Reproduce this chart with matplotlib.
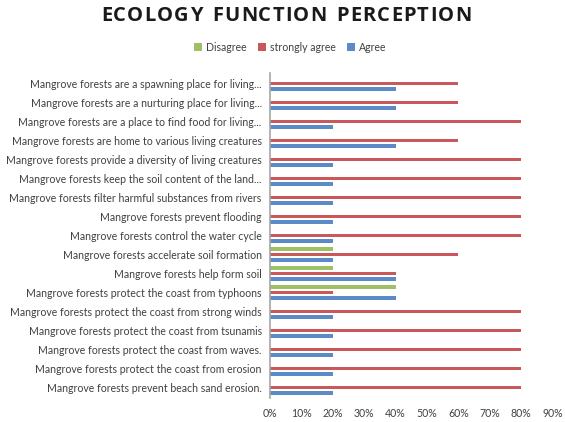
import matplotlib
matplotlib.use("Agg")
import matplotlib.pyplot as plt
import numpy as np

plt.rcParams['font.family'] = ['Lato', 'DejaVu Sans']

# categories, bottom to top
categories = [
    "Mangrove forests prevent beach sand erosion.",
    "Mangrove forests protect the coast from erosion",
    "Mangrove forests protect the coast from waves.",
    "Mangrove forests protect the coast from tsunamis",
    "Mangrove forests protect the coast from strong winds",
    "Mangrove forests protect the coast from typhoons",
    "Mangrove forests help form soil",
    "Mangrove forests accelerate soil formation",
    "Mangrove forests control the water cycle",
    "Mangrove forests prevent flooding",
    "Mangrove forests filter harmful substances from rivers",
    "Mangrove forests keep the soil content of the land...",
    "Mangrove forests provide a diversity of living creatures",
    "Mangrove forests are home to various living creatures",
    "Mangrove forests are a place to find food for living...",
    "Mangrove forests are a nurturing place for living...",
    "Mangrove forests are a spawning place for living...",
]
agree = [0.2, 0.2, 0.2, 0.2, 0.2, 0.4, 0.4, 0.2, 0.2, 0.2, 0.2, 0.2, 0.2, 0.4, 0.2, 0.4, 0.4]
strongly_agree = [0.8, 0.8, 0.8, 0.8, 0.8, 0.2, 0.4, 0.6, 0.8, 0.8, 0.8, 0.8, 0.8, 0.6, 0.8, 0.6, 0.6]
disagree = [0, 0, 0, 0, 0, 0.4, 0.2, 0.2, 0, 0, 0, 0, 0, 0, 0, 0, 0]

x_ticks = [0, 0.1, 0.2, 0.3, 0.4, 0.5, 0.6, 0.7, 0.8, 0.9]
title = "ECOLOGY FUNCTION PERCEPTION"

fig = plt.figure(figsize=(5.65, 4.22), dpi=100)
ax = fig.add_axes([0.478, 0.057, 0.50, 0.77])

y = np.arange(len(categories))
step = 0.3
h = 0.19
ax.barh(y - step, agree, height=h, color='#5B8BC6', label='Agree')
ax.barh(y, strongly_agree, height=h, color='#C9585A', label='strongly agree')
ax.barh(y + step, disagree, height=h, color='#9FC066', label='Disagree')

ax.set_yticks(y)
ax.set_yticklabels(categories, fontsize=7.6, color='#404040')
ax.set_ylim(-0.55, len(categories) - 0.45)
ax.set_xlim(0, 0.9)
ax.set_xticks(x_ticks)
ax.set_xticklabels([f"{int(round(t * 100))}%" for t in x_ticks], fontsize=7.6, color='#404040')
ax.tick_params(axis='y', length=0, pad=6)
ax.tick_params(axis='x', length=0, pad=7)
for s in ['top', 'right', 'bottom']:
    ax.spines[s].set_visible(False)
ax.spines['left'].set_color('#A6A6A6')
ax.spines['left'].set_linewidth(1.2)

handles, labels = ax.get_legend_handles_labels()
fig.legend(handles[::-1], labels[::-1], loc='center', bbox_to_anchor=(0.514, 0.888),
           ncol=3, frameon=False, fontsize=7.6, handlelength=0.7, handleheight=0.7,
           columnspacing=1.1, handletextpad=0.4, labelcolor='#404040')

# title with letter spacing: place characters one by one
renderer = fig.canvas.get_renderer()
W = fig.bbox.width
extra = 1.2  # px between letters
chars = []
for c in title:
    t = fig.text(0, 0.963, c if c != " " else "n", family=['Open Sans', 'DejaVu Sans'],
                 ha='left', va='center', fontsize=14.5, fontweight='bold', color='#1a1a1a')
    w = t.get_window_extent(renderer).width
    if c == " ":
        t.set_text("")
        w *= 0.55
    chars.append((t, w))
total = sum(w for _, w in chars) + extra * (len(chars) - 1)
x = 286 - total / 2
for t, w in chars:
    t.set_x(x / W)
    x += w + extra

fig.savefig("out.png", dpi=100)
